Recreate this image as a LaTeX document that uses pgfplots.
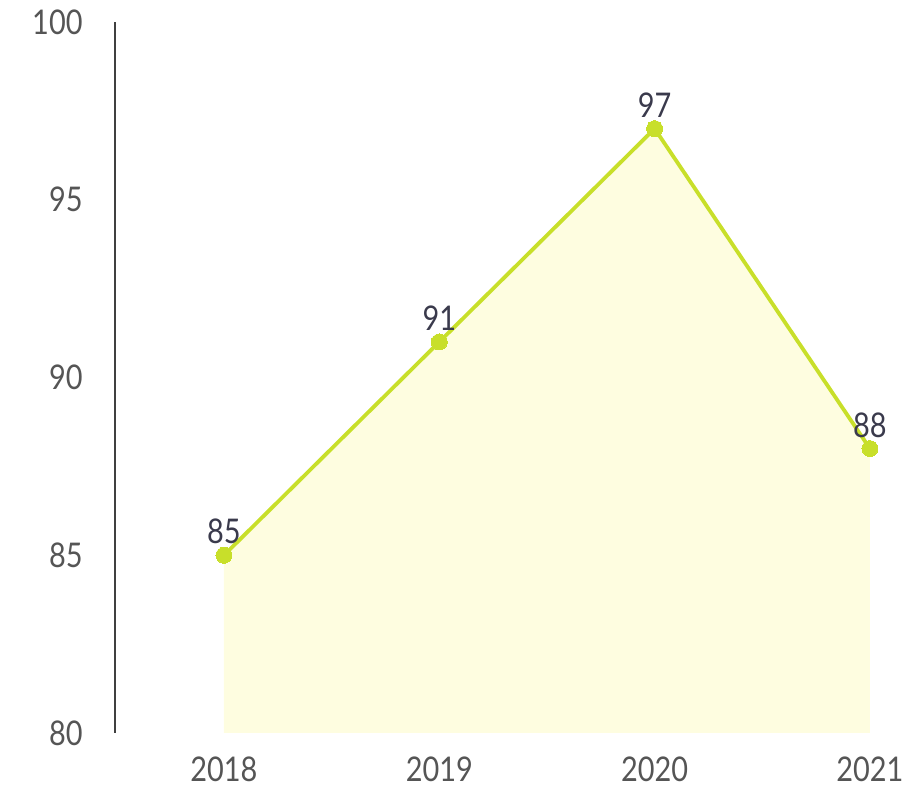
\documentclass[border=0pt]{standalone}
\usepackage{pgfplots}
\pgfplotsset{compat=1.18}
\usepackage{fontspec}
\setmainfont{Lato}
\definecolor{linegreen}{HTML}{C8DF2A}
\definecolor{areafill}{HTML}{FEFDE0}
\definecolor{ticktext}{HTML}{555555}
\definecolor{labeltext}{HTML}{3A3A4C}
\begin{document}
\begin{tikzpicture}
\path (0pt,0pt) rectangle (919pt,794pt);
\begin{axis}[
  at={(115pt,61pt)}, anchor=south west,
  scale only axis, width=798pt, height=711pt,
  xmin=-0.506, xmax=3.2, ymin=80, ymax=100,
  axis lines*=left,
  x axis line style={draw=none},
  y axis line style={draw=black!75, line width=1.6pt, -},
  major tick length=0pt,
  xtick={0,1,2,3}, xticklabels={2018,2019,2020,2021},
  ytick={80,85,90,95,100},
  /pgf/number format/assume math mode=true,
  tick label style={font=\fontsize{34}{40}\selectfont, text=ticktext, inner sep=0pt, xscale=0.85},
  yticklabel style={anchor=east, xshift=-38pt},
  xticklabel style={anchor=north, yshift=-24pt},
]
\addplot[draw=none, fill=areafill] coordinates {(0,80) (0,85) (1,91) (2,97) (3,88) (3,80)} --cycle;
\addplot[color=linegreen, line width=3.8pt, mark=*, mark size=8pt,
  mark options={fill=linegreen, draw=linegreen, line width=0pt},
  nodes near coords, point meta=explicit symbolic,
  every node near coord/.style={anchor=south, yshift=11pt, font=\fontsize{34}{40}\selectfont, text=labeltext, inner sep=0pt, xscale=0.85}]
  coordinates {(0,85) [85] (1,91) [91] (2,97) [97] (3,88) [88]};
\end{axis}
\end{tikzpicture}
\end{document}
